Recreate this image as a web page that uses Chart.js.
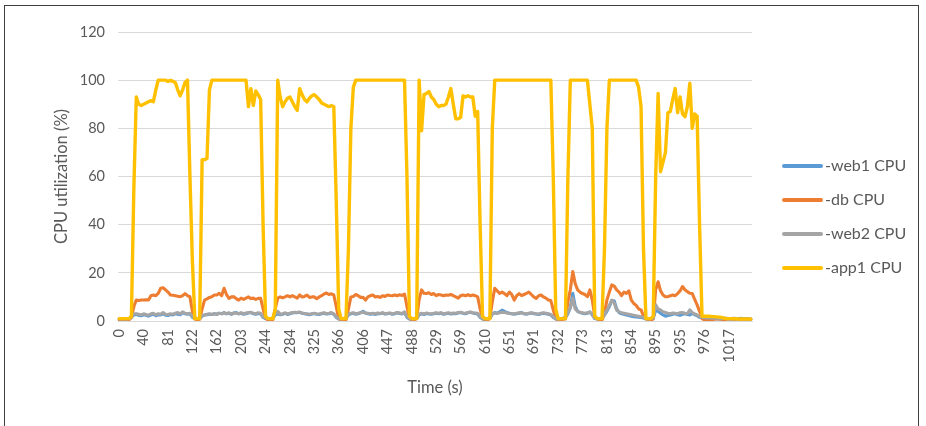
<!DOCTYPE html>
<html>
<head>
<meta charset="utf-8">
<script src="https://cdn.jsdelivr.net/npm/chart.js@4"></script>
<style>
  body { margin: 0; background: #fff; }
  #wrap { position: relative; width: 926px; height: 426px; overflow: hidden; }
  #frame { position: absolute; left: 4px; top: 5px; width: 913px; height: 440px; border: 1px solid #3f3f3f; }
  #chart { position: absolute; left: 0; top: 0; }
  .leg { position: absolute; left: 782px; height: 20px; font: 16px Lato, sans-serif; color: #595959; white-space: nowrap; }
  .leg span { position: absolute; left: 0; top: 8px; width: 41px; height: 4px; border-radius: 2px; }
  .leg b { position: absolute; left: 43px; top: -1px; font-weight: normal; }
</style>
</head>
<body>
<div id="wrap">
  <div id="frame"></div>
  <canvas id="chart" width="926" height="426"></canvas>
  <div id="legend"></div>
</div>
<script>
// tick labels shown every 10th sample (time in seconds)
const timeTicks = ["0", "40", "81", "122", "162", "203", "244", "284", "325", "366", "406", "447", "488",
    "529", "569", "610", "651", "691", "732", "773", "813", "854", "895", "935", "976", "1017"];

const seriesNames = ["-web1 CPU", "-db CPU", "-web2 CPU", "-app1 CPU"];
const seriesColors = ["#5B9BD5", "#ED7D31", "#A5A5A5", "#FFC000"];

const web1Cpu = [
    0.8, 0.8, 0.7, 0.8, 0.8,
    1.5, 2.5, 2.8, 2.3, 2.2, 2.6, 2.4, 2, 2.5, 2.8, 2.2, 2.6, 2.5, 3, 2.4, 2.3, 2.7, 2.5, 3, 2.8, 2.6, 3.5, 3, 2.8, 3, 1.5,
    1, 0.8, 1,
    2, 2.5, 2.6, 2.8, 2.7, 3, 2.8, 3.2, 3, 3.5, 3, 3.2, 2.8, 3.3, 3.5, 3, 3.2, 2.8, 3, 3.3, 3.5, 3, 2.8, 3.1, 3, 1.5,
    1, 0.8, 0.8, 1,
    2.5, 3, 2.6, 2.8, 3.3, 2.7, 3, 3.3, 3.5, 3.4, 3.6, 3.2, 3, 2.8, 2.6, 2.9, 3.1, 2.8, 2.7, 3, 3.2, 2.9, 3, 3.3, 2.8, 1.5,
    0.8, 0.7, 0.8, 1,
    2.5, 3, 3.2, 2.8, 3, 3.5, 4, 3.3, 3, 2.8, 3, 2.7, 3.1, 3, 3.3, 2.9, 3, 3.2, 2.8, 3, 3.4, 3.1, 2.9, 3.5, 1.5,
    0.8, 0.7, 0.8, 1,
    2.5, 3, 2.7, 3.1, 2.9, 2.8, 3, 3.2, 3, 3.3, 2.8, 3, 3.2, 2.9, 3.1, 3, 3.3, 3.5, 3.2, 3, 3.4, 3.6, 3.3, 3.1, 2.9, 1.5,
    0.8, 0.7, 0.8, 1,
    2.8, 3.5, 3.2, 3.8, 4.5, 4, 3.5, 3.2, 3, 2.8, 3, 3.2, 3.5, 3, 2.8, 3.1, 3.3, 3, 2.9, 2.7, 3, 3.2, 3, 2.8, 2.5, 1.5,
    0.8, 0.7, 0.8, 0.9, 1.5,
    3, 5.5, 11.5, 6, 4, 3.5, 3.2, 3, 3.2, 3.8, 2.5,
    1, 0.8, 0.8, 1,
    2.5, 4, 6, 8.5, 8.3, 5, 3.5, 3, 2.8, 2.5, 2.3, 2, 1.8, 1.7, 1.6, 1.5, 1.2,
    0.8, 0.7, 0.8, 1,
    4.6, 4, 3.2, 2.5, 2, 2.3, 2.5, 2.8, 3, 2.6, 2.4, 2.8, 3, 2.7, 2.5, 3.2, 2.6, 2.2, 1.5,
    1.2, 1.1, 1, 1, 1, 1, 1, 0.9, 0.9, 1, 0.9, 0.8, 0.8, 0.9, 0.8, 0.8, 0.9, 0.8, 0.8, 0.7, 0.7
];

const dbCpu = [
    0.5, 0.5, 0.5, 0.5, 0.5,
    1.5, 6, 8.7, 8.5, 8.7, 8.7, 8.8, 8.7,
    10.5, 10.8, 10.5, 11.5, 13.6, 13.8, 12.9, 12, 10.8, 10.7, 10.5, 10.3, 10.1, 10.5, 11.4, 10.5, 10.1, 4,
    0.8, 0.5, 0.7,
    5, 8.7, 9.2, 9.8, 10.1, 10.8, 10.8, 11.5, 10.5, 13.6, 11, 9.4, 10, 10.1, 9.3, 8.7, 9.5, 9, 9.5, 10, 9.3, 9.5, 9, 9.4, 9.4, 5,
    1, 0.5, 0.5, 0.6,
    5, 9.5, 10, 9.6, 10, 10.5, 10, 10.5, 10, 9.5, 10.8, 10, 10.2, 10.8, 9.8, 10, 10, 9.3, 10, 10.5, 11.2, 11.6, 11, 11.3, 10.8, 6,
    1, 0.5, 0.5, 0.6,
    5, 10, 10.2, 11, 10.5, 9.8, 9.8, 8.7, 10, 10.5, 10.8, 10, 10.2, 9.8, 10.5, 10.2, 10.8, 10.6, 10.5, 10.8, 10.5, 10.9, 10.6, 11.2, 6,
    1, 0.5, 0.5, 1,
    9, 12.9, 11.5, 11.4, 11.7, 11, 11.4, 10.5, 11, 10.8, 10.5, 10.8, 10.7, 11, 10.5, 10, 9.5, 10.5, 10.8, 10.5, 10.9, 10.5, 10.8, 10.5, 10, 5,
    1, 0.5, 0.5, 1,
    8, 13.6, 12.5, 11.5, 12, 11.4, 10.5, 12, 11, 8.7, 10.5, 11.4, 10.5, 11, 11.5, 12, 11, 10, 9.4, 10.5, 10.8, 10, 9.5, 8.7, 8.5, 4.6,
    1, 0.5, 0.5, 0.7, 0.8,
    8, 13, 20.5, 15.5, 12.9, 12, 11.4, 11, 10.1, 12.9, 8.7,
    2, 0.8, 0.5, 0.5,
    3, 8.7, 12, 15, 14.5, 12.9, 12, 10.5, 12, 11.5, 12.5, 8.7, 7.3, 6.5, 5, 4.6, 2,
    1, 0.5, 0.5, 0.8,
    13, 16.3, 12.5, 10.8, 10.1, 10.1, 10.5, 10.8, 10.5, 11.4, 12.5, 14.3, 13, 12.2, 11.5, 11.4, 9, 6.7, 4,
    1, 0.5, 0.4, 0.5, 0.6, 0.7, 0.8, 0.8, 0.7, 0.6, 0.7, 0.8, 0.8, 0.7, 0.8, 0.9, 0.8, 0.7, 0.8, 0.8, 0.7
];

const web2Cpu = [
    0.8, 0.9, 0.8, 0.8, 0.9,
    1.8, 3, 3, 2.8, 2.5, 3, 2.7, 2.4, 3, 3.2, 2.6, 3, 2.8, 3.5, 2.8, 2.7, 3, 2.8, 3.2, 3.5, 3, 3.8, 3.2, 3, 3.2, 1.8,
    1.2, 1, 1.2,
    2.3, 2.5, 2.8, 3, 2.7, 3, 2.8, 3.2, 3, 3.5, 3, 3.4, 2.9, 3.3, 3.2, 3, 3.4, 3, 3.3, 3.5, 3.6, 3.2, 3, 3.4, 3.2, 1.8,
    1.2, 1, 1, 1.2,
    3, 4, 2.8, 3, 3.3, 2.9, 3.2, 3.5, 3.6, 3.5, 3.7, 3.3, 3.1, 3, 2.8, 3, 3.2, 3, 2.9, 3.2, 3.4, 3, 3.2, 3.5, 3, 1.8,
    1, 0.9, 1, 1.2,
    2.8, 3.2, 3.4, 3, 3.2, 3.4, 3.6, 3.3, 3.2, 3, 3.2, 2.9, 3.3, 3.1, 3.4, 3, 3.2, 3.3, 3, 3.2, 3.5, 3.3, 3.1, 3.8, 1.8,
    1, 0.9, 1, 1.2,
    2.8, 3.2, 2.9, 3.3, 3.1, 3, 3.2, 3.4, 3.2, 3.4, 3, 3.2, 3.4, 3.1, 3.3, 3.2, 3.5, 3.6, 3.3, 3.2, 3.5, 3.7, 3.4, 3.3, 3.2, 1.8,
    1, 0.9, 1, 1.2,
    3, 3.3, 3.2, 3.4, 3.6, 3.5, 3.3, 3.1, 3, 3, 3.2, 3.4, 3.3, 3.1, 3, 3.2, 3.4, 3.2, 3, 2.9, 3.2, 3.4, 3.2, 3, 2.7, 1.8,
    1, 0.9, 1, 1.1, 1.8,
    3.5, 5.5, 9.5, 5, 4, 3.6, 3.4, 3.2, 3.4, 3.6, 2.8,
    1.2, 1, 1, 1.2,
    3, 4.5, 6.5, 8.7, 7.5, 4.5, 3.8, 3.4, 3.2, 3, 2.8, 2.6, 2.4, 2.2, 2, 1.8, 1.5,
    1, 0.9, 1, 1.2,
    6.7, 5, 4.6, 3.8, 3.5, 3.2, 3, 3.3, 3.2, 3, 3.4, 3.5, 3.2, 3, 4.6, 3.5, 3, 2.5, 1.8,
    1.5, 1.4, 1.3, 1.3, 1.2, 1.2, 1.2, 1.1, 1.1, 1.2, 1.1, 1, 1, 1.1, 1, 1, 1.1, 1, 1, 0.9, 0.9
];

const app1Cpu = [
    1, 1, 1, 1, 1,
    2, 55, 93, 90, 89.5, 90, 90.5, 91, 91.5, 91, 96, 100, 100, 100, 100, 99.5, 100, 99.5, 99, 96, 93.5, 96, 99, 100, 60, 25,
    1, 1, 1,
    67, 67, 67.5, 96, 100, 100, 100, 100, 100, 100, 100, 100, 100, 100, 100, 100, 100, 100, 100, 89, 96.5, 89.5, 95.5, 94, 92, 40,
    2, 1, 1, 1,
    5, 100, 93, 89, 91, 92.5, 93, 91, 89, 87.5, 96.5, 94, 92, 91, 92.5, 93.5, 94, 93, 92, 90.5, 90, 89.5, 89, 89.5, 89, 50,
    5, 1, 1, 1,
    30, 80, 97, 100, 100, 100, 100, 100, 100, 100, 100, 100, 100, 100, 100, 100, 100, 100, 100, 100, 100, 100, 100, 100, 60,
    2, 1, 1, 1,
    100, 79, 94, 94.5, 95.3, 93, 92, 90, 89, 89.5, 89.5, 90, 93, 96.5, 90, 84, 84, 84.5, 93.5, 93, 93.5, 93, 93, 85, 87, 40,
    2, 1, 1, 1,
    80, 100, 100, 100, 100, 100, 100, 100, 100, 100, 100, 100, 100, 100, 100, 100, 100, 100, 100, 100, 100, 100, 100, 100, 100, 60,
    5, 1, 1, 1, 1,
    60, 100, 100, 100, 100, 100, 100, 100, 100, 90, 80,
    2, 1, 1, 1,
    30, 80, 100, 100, 100, 100, 100, 100, 100, 100, 100, 100, 100, 100, 97, 89, 30,
    1, 1, 1, 2,
    60, 94.5, 62, 66, 70, 86.5, 87, 92, 96.5, 86.5, 93, 86, 84.8, 89, 98.7, 80, 86, 85, 40,
    2, 2, 2, 2, 1.8, 1.8, 1.7, 1.6, 1.5, 1.2, 1, 1, 1, 0.9, 1, 0.8, 0.9, 0.8, 0.8, 0.9, 0.8
];

const allSeries = [web1Cpu, dbCpu, web2Cpu, app1Cpu];
const sampleLabels = app1Cpu.map((v, i) => i);

Chart.defaults.font.family = "Lato, sans-serif";
Chart.defaults.color = "#595959";

function buildLegend() {
    const box = document.getElementById("legend");
    seriesNames.forEach((name, i) => {
        const row = document.createElement("div");
        row.className = "leg";
        row.style.top = (156 + i * 34) + "px";
        row.innerHTML = '<span style="background:' + seriesColors[i] + '"></span><b>' + name + "</b>";
        box.appendChild(row);
    });
}

const ctx = document.getElementById("chart").getContext("2d");
new Chart(ctx, {
    type: "line",
    data: {
        labels: sampleLabels,
        datasets: allSeries.map((values, i) => ({
            label: seriesNames[i],
            data: values,
            borderColor: seriesColors[i],
            backgroundColor: seriesColors[i],
            borderWidth: i === 3 ? 3.4 : 3.1,
            pointRadius: 0,
            tension: 0,
            borderJoinStyle: "round",
            borderCapStyle: "round",
            order: 3 - i
        }))
    },
    options: {
        responsive: false,
        animation: false,
        layout: { padding: { left: 0, right: 174, top: 32, bottom: 0 } },
        plugins: { legend: { display: false }, tooltip: { enabled: false } },
        scales: {
            x: {
                offset: true,
                grid: { display: false, drawTicks: false },
                border: { display: true, color: "#d9d9d9" },
                ticks: {
                    autoSkip: false,
                    minRotation: 90,
                    maxRotation: 90,
                    padding: 8,
                    font: { size: 14.5 },
                    callback: (v, i) => (i % 10 === 0 ? timeTicks[i / 10] : "")
                },
                title: { display: true, text: "Time (s)", font: { size: 16.5 }, padding: { top: 0, bottom: 28 } },
                afterFit: s => { s.height = 105; }
            },
            y: {
                min: 0,
                max: 120,
                ticks: { stepSize: 20, padding: 13, font: { size: 14.5 } },
                grid: { color: "#d9d9d9", drawTicks: false },
                border: { display: false },
                title: { display: true, text: "CPU utilization (%)", font: { size: 16.5 }, padding: { top: 52, bottom: 0 } },
                afterFit: s => { s.width = 118; }
            }
        }
    }
});

buildLegend();
</script>
</body>
</html>
